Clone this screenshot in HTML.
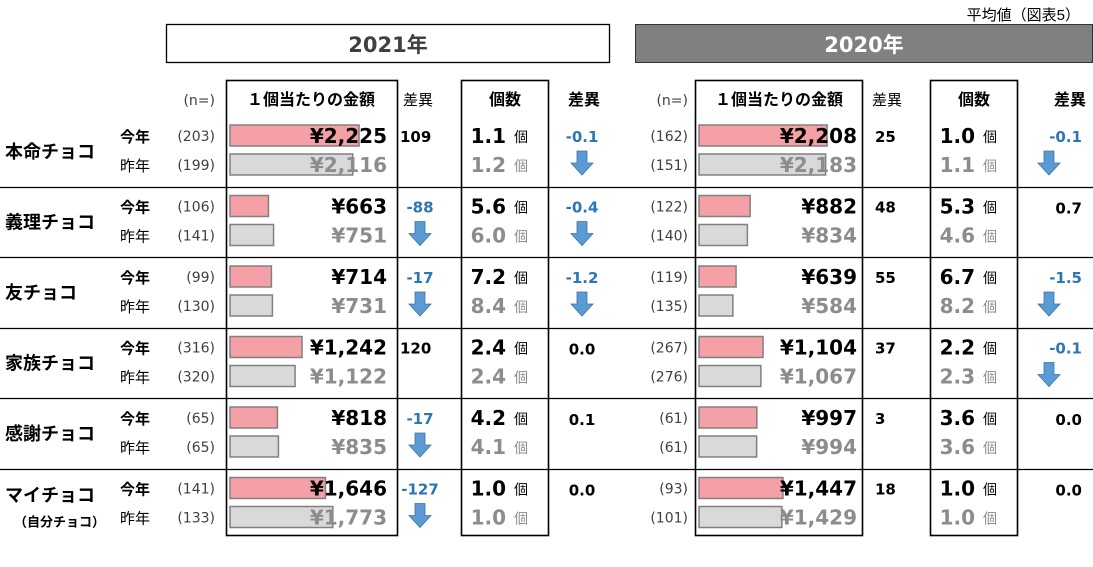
<!DOCTYPE html>
<html><head><meta charset="utf-8">
<style>
body{margin:0;background:#fff;}
svg{display:block;font-family:"DejaVu Sans","Noto Sans CJK JP",sans-serif;}
</style></head>
<body>
<svg id="chart" width="1093" height="567" viewBox="0 0 1093 567">
<text x="1080" y="20" font-size="15" text-anchor="end" fill="#000" font-family="Liberation Sans, Noto Sans CJK JP, sans-serif">平均値（図表5）</text>
<rect x="166.5" y="24.5" width="443" height="38" fill="#fff" stroke="#000" stroke-width="1.3"/>
<text x="388" y="52" font-size="21" font-weight="bold" fill="#404040" text-anchor="middle">2021年</text>
<rect x="635.5" y="24.5" width="457" height="38" fill="#808080" stroke="#333" stroke-width="1"/>
<text x="864" y="52" font-size="21" font-weight="bold" fill="#fff" text-anchor="middle">2020年</text>
<g id="grid"></g>
<g id="rows"></g>
</svg>
<script>
const categories=["本命チョコ","義理チョコ","友チョコ","家族チョコ","感謝チョコ","マイチョコ"];
const n2021Now=[203,106,99,316,65,141];
const n2021Prev=[199,141,130,320,65,133];
const amt2021Now=[2225,663,714,1242,818,1646];
const amt2021Prev=[2116,751,731,1122,835,1773];
const cnt2021Now=[1.1,5.6,7.2,2.4,4.2,1.0];
const cnt2021Prev=[1.2,6.0,8.4,2.4,4.1,1.0];
const n2020Now=[162,122,119,267,61,93];
const n2020Prev=[151,140,135,276,61,101];
const amt2020Now=[2208,882,639,1104,997,1447];
const amt2020Prev=[2183,834,584,1067,994,1429];
const cnt2020Now=[1.0,5.3,6.7,2.2,3.6,1.0];
const cnt2020Prev=[1.1,4.6,8.2,2.3,3.6,1.0];

const NS="http://www.w3.org/2000/svg";
const grid=document.getElementById('grid');
const rowsG=document.getElementById('rows');
function mk(tag,attrs,parent,txt){const e=document.createElementNS(NS,tag);for(const k in attrs)e.setAttribute(k,attrs[k]);if(txt!==undefined)e.textContent=txt;parent.appendChild(e);return e;}
function barW(v){return v*0.058;}
function fmtYen(v){return '¥'+v.toLocaleString('en-US');}
const top0=116,rowH=70.5;
function rowTop(i){return top0+i*rowH;}

const hdrs=[[215,'(n=)','end',false,14,'#404040','n-header-2021'],[311,'１個当たりの金額','middle',true,16,'#000','amount-header-2021'],[418,'差異','middle',false,15,'#000','amount-diff-header-2021'],[505,'個数','middle',true,16,'#000','count-header-2021'],[584,'差異','middle',true,16,'#000','count-diff-header-2021'],
[688,'(n=)','end',false,14,'#404040','n-header-2020'],[779,'１個当たりの金額','middle',true,16,'#000','amount-header-2020'],[887,'差異','middle',false,15,'#000','amount-diff-header-2020'],[974,'個数','middle',true,16,'#000','count-header-2020'],[1070,'差異','middle',true,16,'#000','count-diff-header-2020']];
hdrs.forEach(h=>{const t=mk('text',{x:h[0],y:105,'font-size':h[4],'text-anchor':h[2],fill:h[5],'font-weight':h[3]?'bold':'normal'},grid,h[1]);

});

for(let i=1;i<6;i++){const y=Math.round(rowTop(i))+0.5;const l=mk('line',{x1:0,x2:1093,y1:y,y2:y,stroke:'#000','stroke-width':1.3},grid);

}
[[226,397],[461,548],[695,862],[930,1017]].forEach(b=>{const r=mk('rect',{x:b[0]+0.5,y:80.5,width:b[1]-b[0],height:455,fill:'none',stroke:'#000','stroke-width':1.6},grid);

});

function arrow(cx,y,parent){const p=mk('path',{d:`M${cx-5} ${y} h10 v12 h6 l-11 12 l-11 -12 h6 z`,fill:'#5B9BD5',stroke:'#41719C','stroke-width':0.8},parent);

}

function diffText(x,y,v,anchor,parent,name,dec){const s=dec?v.toFixed(1):String(v);const t=mk('text',{x:x,y:y,'font-size':15,'font-weight':'bold','text-anchor':anchor,fill:v<0?'#2E75B6':'#000'},parent,s);

return t;}

function block(g,i,o,nN,nP,aN,aP,cN,cP){
  const t=rowTop(i);
  const yN=t+26,yP=t+55;
  const nA=mk('text',{x:o.nx,y:yN-1,'font-size':14,'text-anchor':'end',fill:'#404040'},g,'('+nN[i]+')');
  
  
  const nB=mk('text',{x:o.nx,y:yP-1,'font-size':14,'text-anchor':'end',fill:'#404040'},g,'('+nP[i]+')');
  
  
  const b1=mk('rect',{x:o.bx,y:t+9,width:barW(aN[i]),height:21,fill:'#F4A0A6',stroke:'#808080','stroke-width':1.5},g);
  
  
  const b2=mk('rect',{x:o.bx,y:t+38,width:barW(aP[i]),height:21,fill:'#D9D9D9',stroke:'#808080','stroke-width':1.5},g);
  
  
  const v1=mk('text',{x:o.vx,y:yN+1,'font-size':20,'font-weight':'bold','text-anchor':'end',fill:'#000'},g,fmtYen(aN[i]));
  
  
  const v2=mk('text',{x:o.vx,y:yP+1,'font-size':20,'font-weight':'bold','text-anchor':'end',fill:'#8C8C8C'},g,fmtYen(aP[i]));
  
  
  const d=aN[i]-aP[i];
  if(d<0){diffText(o.dcx,yN,d,'middle',g,'amount-diff',false);arrow(o.dcx,t+35,g);}
  else diffText(o.dlx,yN,d,'start',g,'amount-diff',false);
  const c1=mk('text',{x:o.cx,y:yN+1,'font-size':20,'font-weight':'bold','text-anchor':'end',fill:'#000'},g,cN[i].toFixed(1));
  
  
  const u1=mk('text',{x:o.cx+8,y:yN,'font-size':14,fill:'#000'},g,'個');
  
  
  const c2=mk('text',{x:o.cx,y:yP+1,'font-size':20,'font-weight':'bold','text-anchor':'end',fill:'#8C8C8C'},g,cP[i].toFixed(1));
  
  
  const u2=mk('text',{x:o.cx+8,y:yP,'font-size':14,fill:'#8C8C8C'},g,'個');
  
  
  const cd=Math.round((cN[i]-cP[i])*10)/10;
  if(cd<0){diffText(o.ccx,yN,cd,o.canchor,g,'count-diff',true);arrow(o.arx,t+35,g);}
  else diffText(o.ccx,yN+1,cd,o.canchor,g,'count-diff',true);
}
const o21={nx:215,bx:230,vx:387,dcx:420,dlx:400,cx:506,ccx:582,canchor:'middle',arx:582};
const o20={nx:688,bx:699,vx:857,dcx:887,dlx:875,cx:975,ccx:1082,canchor:'end',arx:1049};
categories.forEach((c,i)=>{
  const g=mk('g',{},rowsG);
  
  
  const t=rowTop(i);
  const sub=i===5;
  const cl=mk('text',{x:5,y:sub?t+33:t+42,'font-size':18,'font-weight':'bold',fill:'#000'},g,c);
  
  
  if(sub){const s=mk('text',{x:14,y:t+58,'font-size':13,'font-weight':'bold',fill:'#000'},g,'（自分チョコ）');
  
  }
  const l1=mk('text',{x:120,y:t+26,'font-size':15,'font-weight':'bold',fill:'#000'},g,'今年');
  
  
  const l2=mk('text',{x:120,y:t+55,'font-size':15,fill:'#000'},g,'昨年');
  
  
  block(g,i,o21,n2021Now,n2021Prev,amt2021Now,amt2021Prev,cnt2021Now,cnt2021Prev);
  block(g,i,o20,n2020Now,n2020Prev,amt2020Now,amt2020Prev,cnt2020Now,cnt2020Prev);
});
</script>
</body></html>
